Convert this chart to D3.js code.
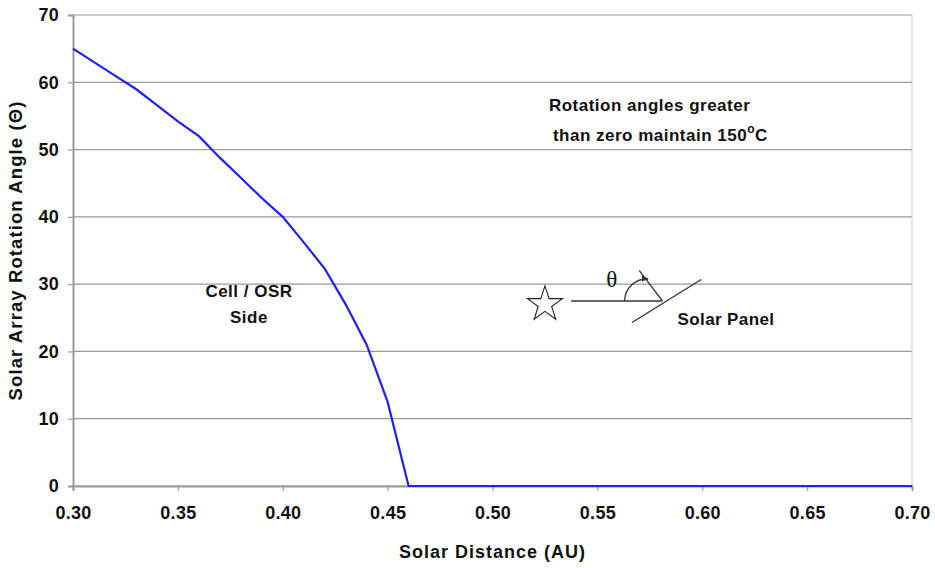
<!DOCTYPE html>
<html>
<head>
<meta charset="utf-8">
<script src="https://cdn.jsdelivr.net/npm/d3@7"></script>
<style>
  body { margin: 0; background: #fff; }
  text { font-family: "Liberation Sans", Arial, sans-serif; font-weight: bold; fill: #111; }
</style>
</head>
<body>
<svg id="chart"></svg>
<script>
// rotation angle vs solar distance
const distance = [0.30, 0.31, 0.32, 0.33, 0.34, 0.35, 0.36, 0.37, 0.38, 0.39, 0.40,
                  0.41, 0.42, 0.43, 0.44, 0.45, 0.46, 0.70];
const angle = [65, 63, 61, 59, 56.6, 54.2, 52, 48.8, 45.8, 42.8, 40,
               36.2, 32.3, 27, 21, 12.5, 0, 0];
const xTicks = [0.30, 0.35, 0.40, 0.45, 0.50, 0.55, 0.60, 0.65, 0.70];
const yTicks = [0, 10, 20, 30, 40, 50, 60, 70];

const width = 935, height = 568;
const margin = {top: 15, right: 23, bottom: 82, left: 73};

const svg = d3.select("#chart")
  .attr("width", width)
  .attr("height", height);

const x = d3.scaleLinear().domain([0.30, 0.70]).range([margin.left, width - margin.right]);
const y = d3.scaleLinear().domain([0, 70]).range([height - margin.bottom, margin.top]);

// gridlines
svg.append("g")
  .selectAll("line")
  .data(yTicks)
  .join("line")
  .attr("x1", x(0.30)).attr("x2", x(0.70))
  .attr("y1", d => y(d)).attr("y2", d => y(d))
  .attr("stroke", "#9a9a9a")
  .attr("stroke-width", 1.2);

// right border of plot area
svg.append("line")
  .attr("x1", x(0.70)).attr("x2", x(0.70))
  .attr("y1", y(70)).attr("y2", y(0))
  .attr("stroke", "#c8c8c8");

const xAxis = svg.append("g")
  .attr("transform", `translate(0,${y(0)})`)
  .call(d3.axisBottom(x).tickValues(xTicks).tickFormat(d3.format(".2f")).tickSize(5).tickPadding(15));
const yAxis = svg.append("g")
  .attr("transform", `translate(${x(0.30)},0)`)
  .call(d3.axisLeft(y).tickValues(yTicks).tickSize(5).tickPadding(9));

[xAxis, yAxis].forEach(g => {
  g.attr("font-family", null).attr("font-size", null);
  g.select(".domain").attr("stroke", "#9a9a9a").attr("stroke-width", 2);
  g.selectAll(".tick line").attr("stroke", "#9a9a9a").attr("stroke-width", 1.2);
  g.selectAll(".tick text")
    .style("font-size", "18px")
    .style("letter-spacing", "0.3px")
    .attr("fill", "#111");
});

// data line
svg.append("path")
  .datum(d3.zip(distance, angle))
  .attr("fill", "none")
  .attr("stroke", "#1f1fff")
  .attr("stroke-width", 2.2)
  .attr("d", d3.line().x(d => x(d[0])).y(d => y(d[1])));

// axis titles
svg.append("text")
  .attr("x", (x(0.30) + x(0.70)) / 2)
  .attr("y", 558)
  .attr("text-anchor", "middle")
  .style("font-size", "18px")
  .style("letter-spacing", "1px")
  .text("Solar Distance (AU)");

svg.append("text")
  .attr("transform", `translate(22,${(y(0) + y(70)) / 2}) rotate(-90)`)
  .attr("text-anchor", "middle")
  .style("font-size", "18.5px")
  .style("letter-spacing", "1.1px")
  .text("Solar Array Rotation Angle (Θ)");

// annotations
const note = svg.append("text")
  .style("font-size", "17px")
  .style("letter-spacing", "0.5px");
note.append("tspan").attr("x", x(0.5269)).attr("y", y(55.7)).text("Rotation angles greater");
note.append("tspan").attr("x", x(0.5288)).attr("y", y(51.3)).text("than zero maintain 150");
note.append("tspan").style("font-size", "12px").attr("dy", -8).text("o");
note.append("tspan").attr("dy", 8).text("C");

const side = svg.append("text")
  .style("font-size", "17px")
  .style("letter-spacing", "0.5px")
  .attr("text-anchor", "middle");
side.append("tspan").attr("x", x(0.3839)).attr("y", y(28.1)).text("Cell / OSR");
side.append("tspan").attr("x", x(0.3839)).attr("y", y(24.2)).text("Side");

// sun / panel sketch
const cx = x(0.581), cy = y(27.5);
const star = d3.symbol().type(d3.symbolStar).size(380);
svg.append("path")
  .attr("d", star())
  .attr("transform", `translate(${x(0.525)},${y(27.0)})`)
  .attr("fill", "none")
  .attr("stroke", "#222")
  .attr("stroke-width", 1.1);

svg.append("line")
  .attr("x1", x(0.5375)).attr("x2", cx)
  .attr("y1", cy).attr("y2", cy)
  .attr("stroke", "#333").attr("stroke-width", 1.6);
svg.append("line")
  .attr("x1", x(0.5665)).attr("x2", x(0.5995))
  .attr("y1", y(24.3)).attr("y2", y(30.7))
  .attr("stroke", "#333").attr("stroke-width", 1.3);
svg.append("line")
  .attr("x1", x(0.570)).attr("x2", cx)
  .attr("y1", y(32)).attr("y2", cy)
  .attr("stroke", "#333").attr("stroke-width", 1.3);

// angle arc with arrow head
svg.append("defs").append("marker")
  .attr("id", "arrow")
  .attr("viewBox", "0 -4 8 8")
  .attr("refX", 7).attr("refY", 0)
  .attr("markerWidth", 7).attr("markerHeight", 7)
  .attr("markerUnits", "userSpaceOnUse")
  .attr("orient", "auto")
  .append("path")
  .attr("d", "M0,-3.5L8,0L0,3.5Z")
  .attr("fill", "#333");

const r = 22;
const ax = x(0.5735);
const arcPath = d3.path();
arcPath.moveTo(ax - r, cy);
arcPath.arc(ax, cy, r, Math.PI, Math.PI * 1.52);
svg.append("path")
  .attr("d", arcPath.toString())
  .attr("fill", "none")
  .attr("stroke", "#333")
  .attr("stroke-width", 1.4)
  .attr("marker-end", "url(#arrow)");

svg.append("text")
  .attr("x", x(0.5569)).attr("y", y(29.6))
  .attr("text-anchor", "middle")
  .style("font-family", "'Liberation Serif', 'Times New Roman', serif")
  .style("font-weight", "normal")
  .style("font-size", "23px")
  .text("θ");

svg.append("text")
  .attr("x", x(0.5882)).attr("y", y(23.9))
  .style("font-size", "17px")
  .style("letter-spacing", "0.4px")
  .text("Solar Panel");
</script>
</body>
</html>
